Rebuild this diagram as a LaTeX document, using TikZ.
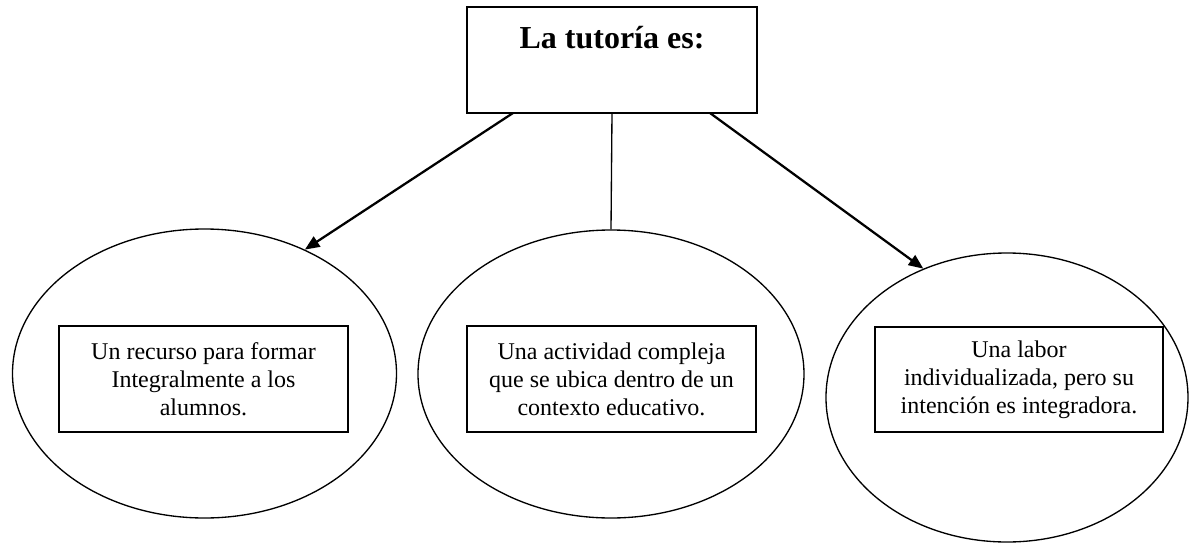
\documentclass[tikz,border=0pt]{standalone}
\usepackage{fontspec}
\setmainfont{Liberation Serif}
\usetikzlibrary{shapes.geometric,arrows.meta}
\tikzset{
  thinline/.style={draw=black, line width=1pt},
  bubble/.style={thinline, ellipse, inner sep=0pt, minimum height=216.75pt},
  textbox/.style={thinline, rectangle, inner sep=0pt, minimum width=216.75pt, minimum height=79.5pt,
    align=center, font=\fontsize{18pt}{21pt}\selectfont},
  titlebox/.style={thinline, rectangle, inner sep=0pt, minimum width=217.5pt, minimum height=79.5pt},
  arrowline/.style={draw=black, line width=1.7pt, -{Triangle[length=11pt,width=9pt]}},
}
\begin{document}
\begin{tikzpicture}[x=0.75pt,y=-0.75pt]
\useasboundingbox[fill=white] (0,0) rectangle (1190,543);
% title
\node[titlebox] (top) at (612,60) {};
\node[anchor=base, font=\fontsize{24pt}{28pt}\selectfont\bfseries] (title) at (612,48) {La tutoría es:};
% ellipses
\node[bubble, minimum width=288pt] (e1) at (204.5,373.5) {};
\node[bubble, minimum width=289.5pt, minimum height=216pt] (e2) at (611,374) {};
\node[bubble, minimum width=271.5pt] (e3) at (1007,397.5) {};
% inner boxes
\node[textbox] (b1) at (203.5,379) {Un recurso para formar\\Integralmente a los\\alumnos.};
\node[textbox] (b2) at (611.5,379) {Una actividad compleja\\que se ubica dentro de un\\contexto educativo.};
\node[textbox, minimum width=216pt, minimum height=78.75pt] (b3) at (1019,379.5) {Una labor\\individualizada, pero su\\intención es integradora.};
% connectors
\coordinate (sl) at (513,113);
\coordinate (sr) at (710,113);
\draw[arrowline] (sl) -- (e1.51.5);
\draw[thinline] (top.south) -- (e2.north);
\draw[arrowline] (sr) -- (e3.123.7);
\end{tikzpicture}
\end{document}
